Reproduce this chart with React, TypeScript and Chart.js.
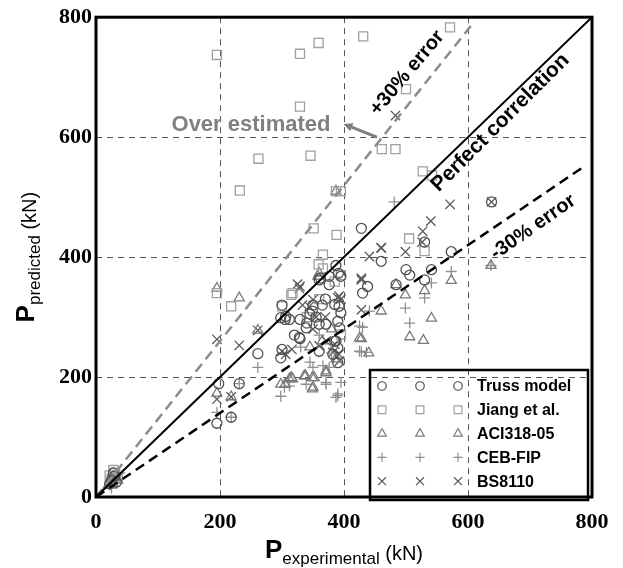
import React, { useEffect, useRef } from "react";
import { Chart, registerables } from "chart.js";

Chart.register(...registerables);

// ---- data ----
const axisTicks = [0, 200, 400, 600, 800];
const seriesNames = ["Truss model", "Jiang et al.", "ACI318-05", "CEB-FIP", "BS8110"];

const trussPoints = [
  [25, 28], [30, 35], [33, 25], [22, 22], [28, 40],
  [195, 123], [218, 133], [198, 189], [231, 189], [261, 239], [298, 299], [305, 296], [298, 232],
  [300, 246], [306, 301], [312, 296], [329, 296], [329, 264], [339, 282], [328, 266], [300, 320],
  [349, 310], [355, 300], [345, 305], [360, 362], [371, 288], [360, 288], [362, 365], [376, 354],
  [376, 368], [387, 386], [391, 373], [395, 368], [385, 321], [390, 293], [393, 282], [392, 318],
  [395, 307], [387, 260], [382, 238], [390, 224], [360, 243], [385, 260], [390, 249], [365, 320],
  [370, 330], [428, 448], [438, 351], [430, 340], [460, 393], [484, 354], [500, 379], [506, 370],
  [530, 362], [541, 379], [573, 409], [530, 425], [638, 492], [350, 320], [340, 290], [320, 270],
];
const jiangPoints = [
  [25, 30], [30, 40], [22, 36], [28, 45], [35, 33],
  [195, 737], [329, 739], [359, 757], [431, 768], [571, 783], [329, 651], [262, 564], [346, 569],
  [232, 511], [387, 510], [395, 510], [500, 680], [461, 580], [483, 580], [527, 543], [542, 536],
  [351, 448], [388, 437], [366, 404], [359, 388], [366, 381], [505, 431], [530, 410], [395, 370],
  [385, 359], [315, 337], [317, 340], [300, 318], [218, 318], [195, 340], [395, 271], [340, 300],
  [360, 330],
];
const aciPoints = [
  [20, 20], [25, 25], [30, 30], [28, 22], [35, 28],
  [195, 348], [231, 332], [261, 278], [195, 173], [218, 167], [298, 188], [305, 188], [312, 197],
  [315, 199], [317, 197], [336, 202], [338, 202], [349, 199], [349, 180], [350, 183], [352, 199],
  [371, 207], [371, 210], [387, 230], [360, 373], [358, 368], [387, 510], [425, 265], [428, 264],
  [440, 240], [460, 310], [484, 354], [499, 337], [506, 267], [528, 261], [530, 344], [541, 298],
  [573, 361], [637, 386], [365, 260], [345, 250], [380, 280],
];
const cebPoints = [
  [22, 20], [28, 28], [32, 34], [25, 15], [38, 40],
  [195, 141], [218, 133], [231, 189], [261, 216], [298, 168], [304, 183], [312, 185], [339, 188],
  [350, 216], [366, 219], [371, 188], [371, 191], [376, 216], [387, 166], [390, 169], [390, 172],
  [395, 191], [345, 225], [380, 240], [425, 243], [425, 285], [428, 242], [430, 283], [436, 241],
  [441, 310], [481, 492], [499, 315], [506, 290], [530, 332], [541, 357], [573, 376], [637, 386],
  [360, 270], [330, 250],
];
const bsPoints = [
  [25, 28], [30, 35], [35, 32], [27, 22],
  [195, 263], [195, 163], [218, 167], [231, 253], [261, 278], [300, 243], [306, 238], [316, 246],
  [325, 355], [328, 348], [329, 351], [333, 320], [344, 318], [350, 329], [355, 300], [360, 252],
  [371, 260], [382, 241], [385, 255], [390, 332], [392, 335], [392, 238], [393, 227], [395, 330],
  [428, 312], [428, 362], [428, 365], [441, 401], [460, 415], [460, 416], [483, 636], [499, 409],
  [526, 425], [527, 443], [540, 460], [571, 488], [638, 492], [350, 280], [370, 300],
];

const perfectLine = [[0, 0], [800, 800]];
const plusErrorLine = [[0, 0], [605, 786]];
const minusErrorLine = [[0, 0], [790, 553]];

const seriesStyles = [
  { style: "circle", color: "#505050", r: 5 },
  { style: "rect", color: "#a0a0a0", r: 6.4 },
  { style: "triangle", color: "#7a7a7a", r: 5.8 },
  { style: "cross", color: "#909090", r: 5.5 },
  { style: "crossRot", color: "#5a5a5a", r: 6.6 },
];
const seriesData = [trussPoints, jiangPoints, aciPoints, cebPoints, bsPoints];

function toXY(arr: number[][]) {
  return arr.map(([x, y]) => ({ x, y }));
}

function drawMarker(ctx: CanvasRenderingContext2D, style: string, x: number, y: number, r: number) {
  ctx.beginPath();
  if (style === "circle") {
    ctx.arc(x, y, r, 0, Math.PI * 2);
  } else if (style === "rect") {
    const s = r * Math.SQRT1_2;
    ctx.rect(x - s, y - s, 2 * s, 2 * s);
  } else if (style === "triangle") {
    ctx.moveTo(x, y - r);
    ctx.lineTo(x + 0.866 * r, y + 0.5 * r);
    ctx.lineTo(x - 0.866 * r, y + 0.5 * r);
    ctx.closePath();
  } else if (style === "cross") {
    ctx.moveTo(x - r, y);
    ctx.lineTo(x + r, y);
    ctx.moveTo(x, y - r);
    ctx.lineTo(x, y + r);
  } else {
    const s = r * Math.SQRT1_2;
    ctx.moveTo(x - s, y - s);
    ctx.lineTo(x + s, y + s);
    ctx.moveTo(x - s, y + s);
    ctx.lineTo(x + s, y - s);
  }
  ctx.stroke();
}

const decorPlugin = {
  id: "decor",
  afterDraw(chart: any) {
    const ctx: CanvasRenderingContext2D = chart.ctx;
    const { left, right, top, bottom } = chart.chartArea;
    const xs = chart.scales.x;
    const ys = chart.scales.y;
    const px = (v: number) => xs.getPixelForValue(v);
    const py = (v: number) => ys.getPixelForValue(v);
    ctx.save();

    // frame
    ctx.strokeStyle = "#000";
    ctx.lineWidth = 3;
    ctx.setLineDash([]);
    ctx.strokeRect(left, top, right - left, bottom - top);

    // rotated annotations
    const rotText = (txt: string, dx: number, dy: number, angDeg: number, color: string, size: number) => {
      ctx.save();
      ctx.translate(px(dx), py(dy));
      ctx.rotate((angDeg * Math.PI) / 180);
      ctx.fillStyle = color;
      ctx.font = `bold ${size}px "Liberation Sans", Arial, sans-serif`;
      ctx.textAlign = "center";
      ctx.textBaseline = "middle";
      ctx.fillText(txt, 0, 0);
      ctx.restore();
    };
    rotText("+30% error", 502, 707, -50, "#000", 20);
    rotText("Perfect correlation", 652, 624, -45, "#000", 21);
    rotText("-30% error", 705, 450, -35, "#000", 20);
    rotText("Over estimated", 250, 621, 0, "#808080", 22);

    // arrow
    const ax1 = px(453), ay1 = py(600), ax2 = px(399), ay2 = py(622);
    ctx.strokeStyle = "#808080";
    ctx.fillStyle = "#808080";
    ctx.lineWidth = 3;
    ctx.beginPath();
    ctx.moveTo(ax1, ay1);
    ctx.lineTo(ax2 + 5, ay2 + 2);
    ctx.stroke();
    const ang = Math.atan2(ay2 - ay1, ax2 - ax1);
    ctx.beginPath();
    ctx.moveTo(ax2, ay2);
    ctx.lineTo(ax2 - 10 * Math.cos(ang - 0.45), ay2 - 10 * Math.sin(ang - 0.45));
    ctx.lineTo(ax2 - 10 * Math.cos(ang + 0.45), ay2 - 10 * Math.sin(ang + 0.45));
    ctx.closePath();
    ctx.fill();

    // legend
    const lx = 370, ly = 370, lw = 218, lh = 130;
    ctx.strokeStyle = "#000";
    ctx.lineWidth = 2.5;
    ctx.strokeRect(lx, ly, lw, lh);
    seriesNames.forEach((name, i) => {
      const yy = 386 + i * 23.8;
      const st = seriesStyles[i];
      ctx.strokeStyle = st.color;
      ctx.lineWidth = 1.2;
      [382, 420, 458].forEach((mx) => drawMarker(ctx, st.style, mx, yy, st.r * 0.85));
      ctx.fillStyle = "#000";
      ctx.font = 'bold 16px "Liberation Sans", Arial, sans-serif';
      ctx.textAlign = "left";
      ctx.textBaseline = "middle";
      ctx.fillText(name, 477, yy + 1);
    });

    // axis titles
    const drawTitle = (parts: { t: string; font: string; dy: number }[]) => {
      let total = 0;
      parts.forEach((p) => {
        ctx.font = p.font;
        total += ctx.measureText(p.t).width;
      });
      let cx = -total / 2;
      ctx.fillStyle = "#000";
      ctx.textAlign = "left";
      ctx.textBaseline = "alphabetic";
      parts.forEach((p) => {
        ctx.font = p.font;
        ctx.fillText(p.t, cx, p.dy);
        cx += ctx.measureText(p.t).width;
      });
    };
    const bigP = 'bold 26px "Liberation Sans", Arial, sans-serif';
    const subF = '17px "Liberation Sans", Arial, sans-serif';
    const kn = '20px "Liberation Sans Narrow", "Liberation Sans", Arial, sans-serif';

    ctx.save();
    ctx.translate((left + right) / 2, 558);
    drawTitle([
      { t: "P", font: bigP, dy: 0 },
      { t: "experimental", font: subF, dy: 6 },
      { t: " (kN)", font: kn, dy: 2 },
    ]);
    ctx.restore();

    ctx.save();
    ctx.translate(34, (top + bottom) / 2);
    ctx.rotate(-Math.PI / 2);
    drawTitle([
      { t: "P", font: bigP, dy: 0 },
      { t: "predicted", font: subF, dy: 6 },
      { t: " (kN)", font: kn, dy: 2 },
    ]);
    ctx.restore();

    ctx.restore();
  },
};

export default function App() {
  const ref = useRef<HTMLCanvasElement | null>(null);
  useEffect(() => {
    if (!ref.current) return;
    const tickFont = { family: '"Liberation Serif", "Times New Roman", serif', weight: "bold" as const, size: 22 };
    const pointSets = seriesData.map((d, i) => ({
      label: seriesNames[i],
      data: toXY(d),
      showLine: false,
      pointStyle: seriesStyles[i].style,
      pointRadius: seriesStyles[i].r,
      pointBorderColor: seriesStyles[i].color,
      pointBackgroundColor: "rgba(0,0,0,0)",
      pointBorderWidth: 1.3,
      borderColor: seriesStyles[i].color,
      backgroundColor: "rgba(0,0,0,0)",
    }));
    const lineSets = [
      { data: toXY(perfectLine), color: "#000", dash: [], width: 2 },
      { data: toXY(plusErrorLine), color: "#8c8c8c", dash: [10, 6], width: 2.5 },
      { data: toXY(minusErrorLine), color: "#000", dash: [10, 6], width: 2.5 },
    ].map((l) => ({
      label: "",
      data: l.data,
      showLine: true,
      borderColor: l.color,
      borderDash: l.dash,
      borderWidth: l.width,
      pointRadius: 0,
      fill: false,
    }));
    const chart = new Chart(ref.current, {
      type: "scatter",
      data: { datasets: [...lineSets, ...pointSets] as any },
      options: {
        responsive: false,
        animation: false,
        events: [],
        layout: { padding: { left: 0, right: 31, top: 14, bottom: 0 } },
        plugins: { legend: { display: false }, tooltip: { enabled: false } },
        scales: {
          x: {
            type: "linear",
            min: 0,
            max: 800,
            afterBuildTicks: (s: any) => {
              s.ticks = axisTicks.map((v) => ({ value: v }));
            },
            afterFit: (s: any) => {
              s.height = 71;
            },
            ticks: { font: tickFont, color: "#000", padding: 12 },
            grid: { color: "#555", lineWidth: 1, drawTicks: false },
            border: { display: false, dash: [6, 5] },
          },
          y: {
            type: "linear",
            min: 0,
            max: 800,
            afterBuildTicks: (s: any) => {
              s.ticks = axisTicks.map((v) => ({ value: v }));
            },
            afterFit: (s: any) => {
              s.width = 96;
            },
            ticks: { font: tickFont, color: "#000", padding: 4 },
            grid: { color: "#555", lineWidth: 1, drawTicks: false },
            border: { display: false, dash: [6, 5] },
          },
        },
      } as any,
      plugins: [decorPlugin],
    });
    return () => chart.destroy();
  }, []);
  return (
    <div style={{ position: "fixed", left: 0, top: 0, width: 623, height: 568, background: "#fff" }}>
      <canvas ref={ref} width={623} height={568} style={{ display: "block" }} />
    </div>
  );
}
